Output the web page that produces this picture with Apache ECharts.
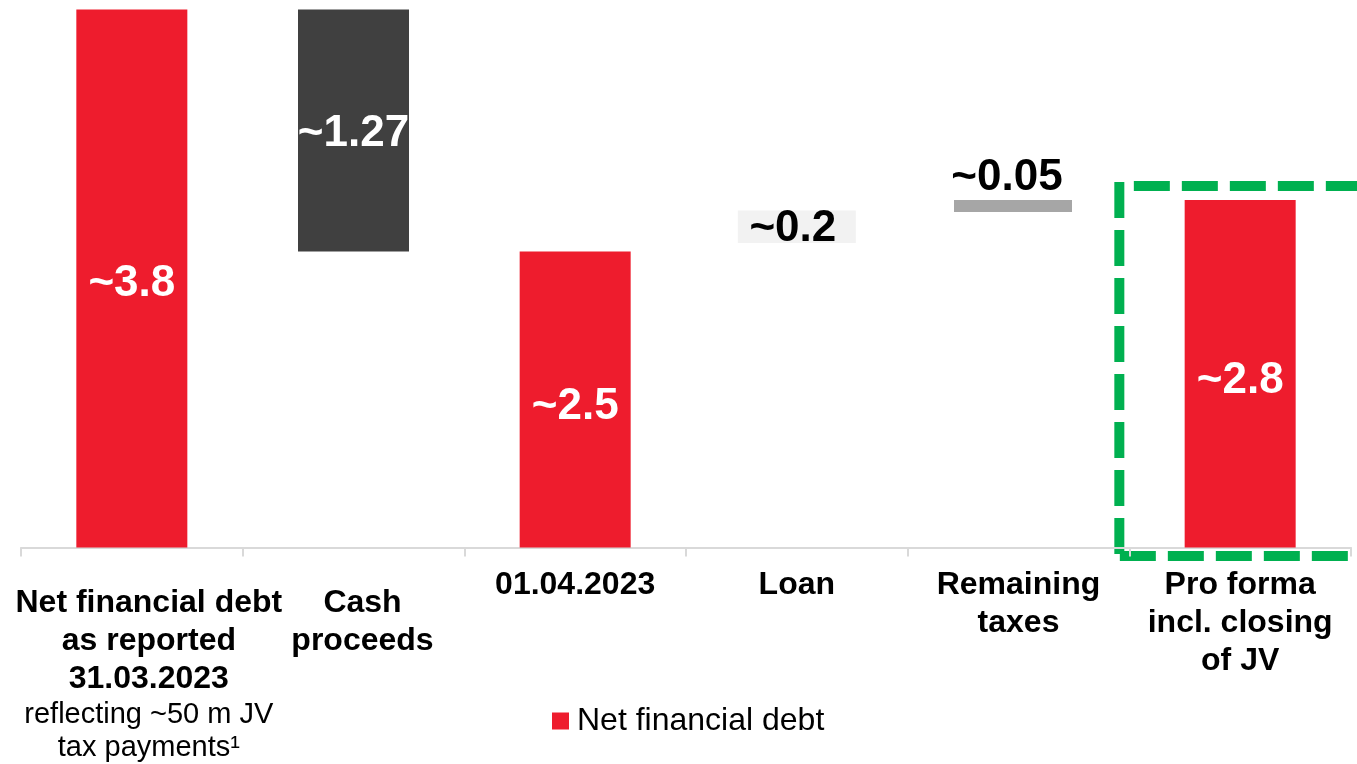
<!DOCTYPE html>
<html>
<head>
<meta charset="utf-8">
<script src="https://cdn.jsdelivr.net/npm/echarts@6/dist/echarts.min.js"></script>
<style>
html,body{margin:0;padding:0;background:#fff;}
#chart{width:1357px;height:764px;}
</style>
</head>
<body>
<div id="chart"></div>
<script>
// Category labels (bold part) and the footnote line under the first one
var categories = ['Net financial debt\nas reported\n31.03.2023', 'Cash\nproceeds', '01.04.2023', 'Loan', 'Remaining\ntaxes', 'Pro forma\nincl. closing\nof JV'];
var notes = ['reflecting ~50 m JV\ntax payments\u00B9', '', '', '', '', ''];
// Value labels shown on the bars
var valueLabels = ['~3.8', '~1.27', '~2.5', '~0.2', '~0.05', '~2.8'];
// Bar extents as drawn in the picture (the source chart is not to scale), in chart units
var barLow  = [0, 2.09, 0, 2.15, 2.37, 0];
var barHigh = [3.8, 3.8, 2.09, 2.38, 2.454, 2.454];
var legendName = 'Net financial debt';

var RED = '#EE1C2D', DARK = '#404040', LIGHT = '#F2F2F2', MID = '#A6A6A6', GREEN = '#00B050';
var FONT = '"Liberation Sans", Arial, sans-serif';
var colors = [RED, DARK, RED, LIGHT, MID, RED];
var labelOffsets = [[0,5],[0,3],[0,7],[-4,2],[-6,0],[0,7]];
// group: 0 = main bars, 1 = loan (wider), 2 = taxes (wider, drawn slightly left in source)
var groupOf = [0, 0, 0, 1, 2, 0];

function baseData(g){
  return barLow.map(function(v,i){ return groupOf[i] === g ? v : '-'; });
}
function valData(g){
  return barHigh.map(function(h,i){
    if (groupOf[i] !== g) return '-';
    var item = { value: +(h - barLow[i]).toFixed(4), itemStyle: { color: colors[i] } };
    var dark = (colors[i] === LIGHT || colors[i] === MID);
    item.label = {
      show: true,
      position: i === 4 ? 'top' : 'inside',
      distance: i === 4 ? 0 : 5,
      offset: labelOffsets[i],
      color: dark ? '#000' : '#fff',
      fontSize: 44, fontWeight: 'bold', fontFamily: FONT,
      formatter: function(){ return valueLabels[i]; }
    };
    return item;
  });
}

var chart = echarts.init(document.getElementById('chart'));
var option = {
  animation: false,
  grid: [
    { left: 21, right: 6, top: 9.5, bottom: 216.5, containLabel: false, outerBoundsMode: 'none' },
    { left: 15.5, right: 11.5, top: 9.5, bottom: 216.5, containLabel: false, outerBoundsMode: 'none' }
  ],
  legend: {
    data: [legendName], left: 552, top: 705, padding: 0, icon: 'rect', itemWidth: 17, itemHeight: 17,
    textStyle: { fontSize: 32, color: '#000', fontFamily: FONT, padding: [0,0,0,3] },
    selectedMode: false
  },
  xAxis: [{
    type: 'category', data: categories, gridIndex: 0,
    axisLine: { lineStyle: { color: '#D9D9D9', width: 2 } },
    axisTick: { show: true, length: 9, lineStyle: { color: '#D9D9D9', width: 2 } },
    axisLabel: {
      interval: 0, margin: 19, color: '#000', fontFamily: FONT, hideOverlap: false,
      formatter: function(v, idx){
        var bs = idx === 0 ? 'b0' : (idx === 1 ? 'b1' : 'b');
        var s = (idx < 2 ? '{sp| }\n' : '');
        s += v.split('\n').map(function(l){ return '{' + bs + '|' + l + '}'; }).join('\n');
        if (notes[idx]) s += '\n' + notes[idx].split('\n').map(function(l){ return '{n0|' + l + '}'; }).join('\n');
        return s;
      },
      rich: {
        sp: { fontSize: 10, lineHeight: 18 },
        b: { fontSize: 32, fontWeight: 'bold', lineHeight: 38, color: '#000', fontFamily: FONT },
        b0: { fontSize: 32, fontWeight: 'bold', lineHeight: 38, color: '#000', fontFamily: FONT, padding: [0,0,0,34] },
        b1: { fontSize: 32, fontWeight: 'bold', lineHeight: 38, color: '#000', fontFamily: FONT, padding: [0,0,0,18] },
        n0: { fontSize: 29, lineHeight: 33, color: '#000', fontFamily: FONT, padding: [0,0,0,34] }
      }
    }
  }, {
    type: 'category', data: categories, gridIndex: 0, show: false
  }, {
    type: 'category', data: categories, gridIndex: 1, show: false
  }],
  yAxis: [
    { type: 'value', gridIndex: 0, min: 0, max: 3.8, show: false, splitLine: { show: false } },
    { type: 'value', gridIndex: 1, min: 0, max: 3.8, show: false, splitLine: { show: false } }
  ],
  series: [
    { name: 'base', type: 'bar', xAxisIndex: 0, yAxisIndex: 0, stack: 'a', barWidth: 111, silent: true,
      itemStyle: { color: 'transparent' }, data: baseData(0) },
    { name: legendName, type: 'bar', xAxisIndex: 0, yAxisIndex: 0, stack: 'a', barWidth: 111,
      itemStyle: { color: RED }, data: valData(0) },
    { name: 'base2', type: 'bar', xAxisIndex: 1, yAxisIndex: 0, stack: 'b', barWidth: 118, silent: true,
      itemStyle: { color: 'transparent' }, data: baseData(1) },
    { name: 'loan', type: 'bar', xAxisIndex: 1, yAxisIndex: 0, stack: 'b', barWidth: 118,
      itemStyle: { color: LIGHT }, data: valData(1) },
    { name: 'base3', type: 'bar', xAxisIndex: 2, yAxisIndex: 1, stack: 'c', barWidth: 118, silent: true,
      itemStyle: { color: 'transparent' }, data: baseData(2) },
    { name: 'taxes', type: 'bar', xAxisIndex: 2, yAxisIndex: 1, stack: 'c', barWidth: 118,
      itemStyle: { color: MID }, data: valData(2) }
  ]
};
chart.setOption(option);

// Green dashed highlight box around the last category, positioned from the axes
var last = categories.length - 1;
var pTop = chart.convertToPixel({ xAxisIndex: 0, yAxisIndex: 0 }, [last, barHigh[last]]);
var pBase = chart.convertToPixel({ xAxisIndex: 0, yAxisIndex: 0 }, [last, 0]);
var band = chart.getModel().getComponent('xAxis', 0).axis.getBandWidth();
var leftX = pTop[0] - band / 2 - 10;
var topY = pTop[1] - 14;
var botY = pBase[1] + 8.5;
var dashStyle = { stroke: GREEN, lineWidth: 10, lineDash: [36, 12], fill: null };
chart.setOption({
  graphic: [
    { type: 'line', shape: { x1: leftX + 14.5, y1: topY, x2: 1420, y2: topY }, style: dashStyle, silent: true },
    { type: 'line', shape: { x1: leftX, y1: topY - 4, x2: leftX, y2: botY + 5 }, style: dashStyle, silent: true },
    { type: 'line', shape: { x1: leftX + 0.5, y1: botY, x2: pBase[0] + band / 2 - 2, y2: botY }, style: dashStyle, silent: true }
  ]
});
</script>
</body>
</html>
